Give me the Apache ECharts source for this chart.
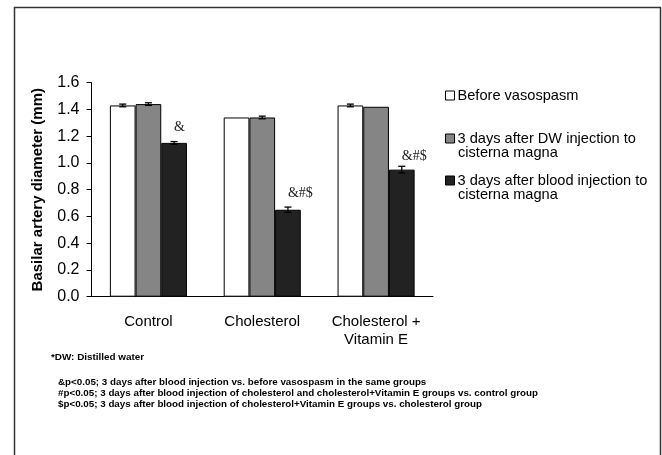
<!DOCTYPE html>
<html><head><meta charset="utf-8">
<script src="https://cdn.jsdelivr.net/npm/echarts@6/dist/echarts.min.js"></script>
<style>html,body{margin:0;padding:0;background:#fff}#c{width:662px;height:455px}</style>
</head><body><div id="c"></div>
<script>
var categories = ['Control', 'Cholesterol', 'Cholesterol +\nVitamin E'];
var seriesNames = ['Before vasospasm', '3 days after DW injection to cisterna magna', '3 days after blood injection to cisterna magna'];
var beforeVals = [1.43, 1.34, 1.43];
var dwVals = [1.44, 1.34, 1.42];
var bloodVals = [1.15, 0.65, 0.95];
var beforeErr = [0.01, 0, 0.01];
var dwErr = [0.01, 0.01, 0];
var bloodErr = [0.01, 0.02, 0.025];
var sigLabels = ['&', '&#$', '&#$'];
var yTicks = [0, 0.2, 0.4, 0.6, 0.8, 1.0, 1.2, 1.4, 1.6];
var footnotes = [
  '&p<0.05; 3 days after blood injection vs. before vasospasm in the same groups',
  '#p<0.05; 3 days after blood injection of cholesterol and cholesterol+Vitamin E groups vs. control group',
  '$p<0.05; 3 days after blood injection of cholesterol+Vitamin E groups vs. cholesterol group'
];

var GAP = 0.323;
var colors = ['#ffffff', '#858585', '#222222'];
var vals = [beforeVals, dwVals, bloodVals];
var errs = [beforeErr, dwErr, bloodErr];
var errData = [];
for (var s = 0; s < 3; s++) for (var i = 0; i < 3; i++) errData.push([i, vals[s][i], errs[s][i], s]);
var labelDist = [9, 9, 6];

var chart = echarts.init(document.getElementById('c'));
var font = 'Liberation Sans, Arial, sans-serif';
var barSeries = seriesNames.map(function (n, s) {
  var o = {
    name: n, type: 'bar', barGap: '0%', barCategoryGap: (GAP * 100) + '%',
    data: vals[s].map(function (v, i) {
      var d = { value: v };
      if (s === 2) d.label = { distance: labelDist[i] };
      return d;
    }),
    itemStyle: { color: colors[s], borderColor: '#000', borderWidth: 1 }, z: 2
  };
  if (s === 2) {
    o.label = {
      show: true, position: 'top', align: 'left', distance: 9,
      formatter: function (p) { return sigLabels[p.dataIndex]; },
      fontFamily: 'Liberation Serif, Times New Roman, serif', fontSize: 14, color: '#222'
    };
  }
  return o;
});
var legendTops = [88, 131, 173];
var legendFirst = ['Before vasospasm', '3 days after DW injection to', '3 days after blood injection to'];
var legends = seriesNames.map(function (n, s) {
  return {
    data: [n], left: 445, top: legendTops[s], orient: 'vertical', icon: 'rect',
    itemWidth: 9, itemHeight: 9, itemGap: 3, selectedMode: false, padding: 0,
    itemStyle: { borderColor: '#000', borderWidth: 1 },
    formatter: function () { return legendFirst[s]; },
    textStyle: { fontFamily: font, fontSize: 14.6, color: '#000', padding: [0, 0, 0, -2] }
  };
});
var graphics = [
  { type: 'rect', shape: { x: 14.5, y: 7.5, width: 646, height: 470 }, style: { fill: null, stroke: '#333', lineWidth: 1.5 }, silent: true },
  { type: 'text', left: 458, top: 145, style: { text: 'cisterna magna', font: '14.6px ' + font, fill: '#000' } },
  { type: 'text', left: 458, top: 187, style: { text: 'cisterna magna', font: '14.6px ' + font, fill: '#000' } },
  { type: 'text', left: 51, top: 352, style: { text: '*DW: Distilled water', font: 'bold 9.9px ' + font, fill: '#000' } }
];
footnotes.forEach(function (t, k) {
  graphics.push({ type: 'text', left: 58, top: 377 + k * 11.3, style: { text: t, font: 'bold 9.8px ' + font, fill: '#000' } });
});

chart.setOption({
  animation: false,
  backgroundColor: '#fff',
  grid: { left: 91.5, right: 229, top: 82.7, bottom: 158.3 },
  legend: legends,
  xAxis: {
    type: 'category', data: categories,
    axisLine: { lineStyle: { color: '#000', width: 1 } },
    axisTick: { inside: true, length: 5, lineStyle: { color: '#000' } },
    axisLabel: { fontFamily: font, fontSize: 15, color: '#000', margin: 16, lineHeight: 18, interval: 0 }
  },
  yAxis: {
    type: 'value', min: 0, max: 1.6, interval: 0.2,
    name: 'Basilar artery diameter (mm)', nameLocation: 'middle', nameGap: 46,
    nameTextStyle: { fontFamily: font, fontSize: 15, fontWeight: 'bold', color: '#000' },
    axisLine: { show: true, lineStyle: { color: '#000', width: 1 } },
    axisTick: { show: true, length: 5, lineStyle: { color: '#000' } },
    splitLine: { show: false },
    axisLabel: { fontFamily: font, fontSize: 16, color: '#000', margin: 12,
      formatter: function (v) { return v.toFixed(1); } }
  },
  graphic: graphics,
  series: barSeries.concat([{
    type: 'custom', data: errData, z: 5, silent: true,
    encode: { x: 0, y: 1 },
    renderItem: function (params, api) {
      var cat = api.value(0), v = api.value(1), e = api.value(2), s = api.value(3);
      if (!e) return null;
      var cw = api.size([1, 0])[0];
      var bw = cw * (1 - GAP) / 3;
      var x = api.coord([cat, v])[0] + (s - 1) * bw;
      var y1 = api.coord([cat, v + e])[1], y2 = api.coord([cat, v - e])[1];
      var st = { stroke: '#000', lineWidth: 1.3 };
      return { type: 'group', children: [
        { type: 'line', shape: { x1: x, y1: y1, x2: x, y2: y2 }, style: st },
        { type: 'line', shape: { x1: x - 3.5, y1: y1, x2: x + 3.5, y2: y1 }, style: st },
        { type: 'line', shape: { x1: x - 3.5, y1: y2, x2: x + 3.5, y2: y2 }, style: st }
      ] };
    }
  }])
});
</script></body></html>
